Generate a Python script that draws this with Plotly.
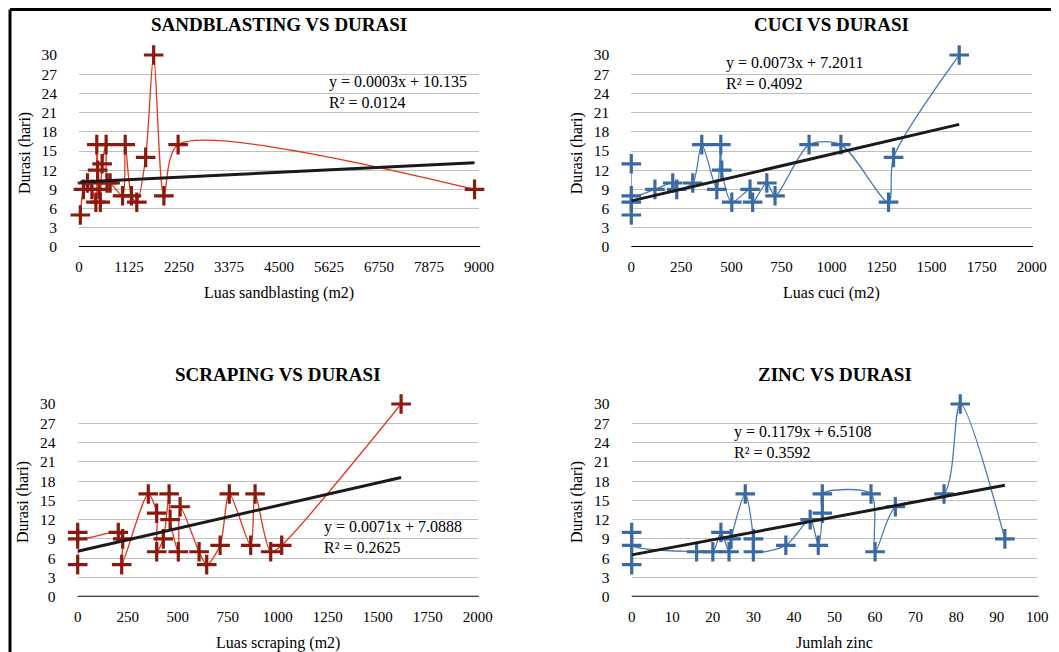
import plotly.graph_objects as go

W, H = 1059, 652

# ---------------- data ----------------
sand_x = [30, 100, 190, 290, 380, 400, 420, 450, 480, 520, 610, 630, 700, 980, 1040, 1180, 1300, 1500, 1680, 1910, 2230, 8900]
sand_y = [5, 9, 10, 9, 7, 16, 12, 9, 7, 13, 16, 10, 10, 8, 16, 8, 7, 14, 30, 8, 16, 9]
sand_slope, sand_icpt = 0.00034, 10.135
sand_eq = ["y = 0.0003x + 10.135", "R² = 0.0124"]

cuci_x = [0, 0, 0, 0, 118, 207, 227, 307, 352, 427, 447, 452, 502, 593, 606, 677, 718, 888, 1047, 1285, 1310, 1638]
cuci_y = [5, 7, 13, 8, 9, 10, 9, 10, 16, 9, 16, 12, 7, 9, 7, 10, 8, 16, 16, 7, 14, 30]
cuci_slope, cuci_icpt = 0.0073, 7.2011
cuci_eq = ["y = 0.0073x + 7.2011", "R² = 0.4092"]

scrap_x = [0, 0, 0, 203, 225, 220, 353, 395, 395, 428, 457, 462, 503, 512, 607, 645, 712, 758, 865, 887, 965, 1020, 1617]
scrap_y = [5, 10, 9, 10, 9, 5, 16, 13, 7, 9, 16, 12, 7, 14, 7, 5, 8, 16, 8, 16, 7, 8, 30]
scrap_slope, scrap_icpt = 0.0071, 7.0888
scrap_eq = ["y = 0.0071x + 7.0888", "R² = 0.2625"]

zinc_x = [0, 0, 0, 16, 20, 22, 24, 24.5, 28, 30, 30, 38, 44, 46, 47, 47, 59, 60, 65, 77, 81, 92]
zinc_y = [5, 10, 8, 7, 7, 10, 7, 9, 16, 9, 7, 8, 12, 8, 13, 16, 16, 7, 14, 16, 30, 9]
zinc_slope, zinc_icpt = 0.1179, 6.5108
zinc_eq = ["y = 0.1179x + 6.5108", "R² = 0.3592"]

y_ticks = list(range(0, 31, 3))
sand_ticks = [0, 1125, 2250, 3375, 4500, 5625, 6750, 7875, 9000]
m_ticks = list(range(0, 2001, 250))
zinc_ticks = list(range(0, 101, 10))

titles = ["SANDBLASTING VS DURASI", "CUCI VS DURASI", "SCRAPING VS DURASI", "ZINC VS DURASI"]
xtitles = ["Luas sandblasting (m2)", "Luas cuci (m2)", "Luas scraping (m2)", "Jumlah zinc"]
ytitle = "Durasi (hari)"

# ---------------- styling ----------------
FONT = "Liberation Serif"
RED_M, RED_L = "#8b1a0e", "#e8331a"
BLUE_M, BLUE_L = "#3b6aa3", "#4a7bb6"
GRID = "#bfbfbf"
OFF = 8  # page offset of the figure inside the browser window

def px_x(p):
    return (p - OFF) / W

def px_y(p):
    return 1 - (p - OFF) / H

# plot areas in window pixels: (left, right, top, bottom)
areas = [
    (79, 479, 55, 247),
    (631.3, 1031.7, 55, 247),
    (77.7, 477.7, 404, 596.7),
    (631.7, 1037.3, 404, 596.7),
]
xranges = [[0, 9000], [0, 2000], [0, 2000], [0, 100]]
xticks = [sand_ticks, m_ticks, m_ticks, zinc_ticks]
series = [
    (sand_x, sand_y, sand_slope, sand_icpt, sand_eq, RED_M, RED_L),
    (cuci_x, cuci_y, cuci_slope, cuci_icpt, cuci_eq, BLUE_M, BLUE_L),
    (scrap_x, scrap_y, scrap_slope, scrap_icpt, scrap_eq, RED_M, RED_L),
    (zinc_x, zinc_y, zinc_slope, zinc_icpt, zinc_eq, BLUE_M, BLUE_L),
]
# equation block: left edge and vertical centre, window pixels
eq_pos = [(327, 92.5), (724, 72.5), (322, 537), (732, 442)]

fig = go.Figure()
layout = dict(
    width=W, height=H, margin=dict(l=0, r=0, t=0, b=0, pad=0, autoexpand=False),
    paper_bgcolor="white", plot_bgcolor="rgba(0,0,0,0)",
    showlegend=False, font=dict(family=FONT, color="black"),
)
annotations = []
shapes = []

for i, (area, xr, xt, s) in enumerate(zip(areas, xranges, xticks, series)):
    n = "" if i == 0 else str(i + 1)
    xa, ya = "x" + n, "y" + n
    l, r, t, b = area
    xs, ys, slope, icpt, eq, cm, cl = s
    fig.add_trace(go.Scatter(
        x=xs, y=ys, xaxis=xa, yaxis=ya, mode="lines+markers",
        line=dict(color=cl, width=1.3, shape="spline", smoothing=0.8),
        marker=dict(symbol="cross-thin", size=14, line=dict(width=3.2, color=cm), color=cm),
        cliponaxis=False,
    ))
    x0, x1 = min(xs), max(xs)
    fig.add_trace(go.Scatter(
        x=[x0, x1], y=[slope * x0 + icpt, slope * x1 + icpt], xaxis=xa, yaxis=ya,
        mode="lines", line=dict(color="#1a1a1a", width=3), cliponaxis=False,
    ))
    layout["xaxis" + n] = dict(
        domain=[px_x(l), px_x(r)], range=xr, anchor=ya, tickvals=xt, automargin=False,
        showgrid=False, zeroline=False, showline=False,
        ticks="outside", ticklen=6, tickcolor="rgba(0,0,0,0)",
        tickfont=dict(family=FONT, size=15, color="black"),
    )
    layout["yaxis" + n] = dict(
        domain=[px_y(b), px_y(t)], range=[0, 30], anchor=xa, tickvals=y_ticks, automargin=False,
        showgrid=True, gridcolor=GRID, gridwidth=1.3, zeroline=False, showline=False,
        ticks="outside", ticklen=18, tickcolor="rgba(0,0,0,0)",
        tickfont=dict(family=FONT, size=15.5, color="black"),
    )
    shapes.append(dict(type="line", xref=xa + " domain", yref=ya, x0=0, x1=1.003, y0=0, y1=0,
                       line=dict(color="black", width=2)))
    cx = (l + r) / 2
    annotations.append(dict(text="<b>" + titles[i] + "</b>", x=px_x(cx), y=px_y(t - 30),
                            xref="paper", yref="paper", showarrow=False, xanchor="center", yanchor="middle",
                            font=dict(family=FONT, size=19, color="black")))
    annotations.append(dict(text=xtitles[i], x=px_x(cx), y=px_y(b + 46),
                            xref="paper", yref="paper", showarrow=False, xanchor="center", yanchor="middle",
                            font=dict(family=FONT, size=16, color="black")))
    annotations.append(dict(text=ytitle, x=px_x(l - 54), y=px_y((t + b) / 2 + 2),
                            xref="paper", yref="paper", showarrow=False, xanchor="center", yanchor="middle",
                            textangle=-90, font=dict(family=FONT, size=16, color="black")))
    ex, ey = eq_pos[i]
    annotations.append(dict(text=eq[0] + "<br>" + eq[1], x=px_x(ex), y=px_y(ey), xref="paper", yref="paper",
                            showarrow=False, xanchor="left", yanchor="middle", align="left",
                            font=dict(family=FONT, size=16, color="black")))

# outer frame (top and left edges visible)
shapes.append(dict(type="line", xref="paper", yref="paper", x0=px_x(10), x1=1.01, y0=px_y(9.5), y1=px_y(9.5),
                   line=dict(color="black", width=3)))
shapes.append(dict(type="line", xref="paper", yref="paper", x0=px_x(10), x1=px_x(10), y0=px_y(9.5), y1=-0.01,
                   line=dict(color="black", width=3)))

layout["annotations"] = annotations
layout["shapes"] = shapes
fig.update_layout(**layout)
fig.write_html("out.html")
